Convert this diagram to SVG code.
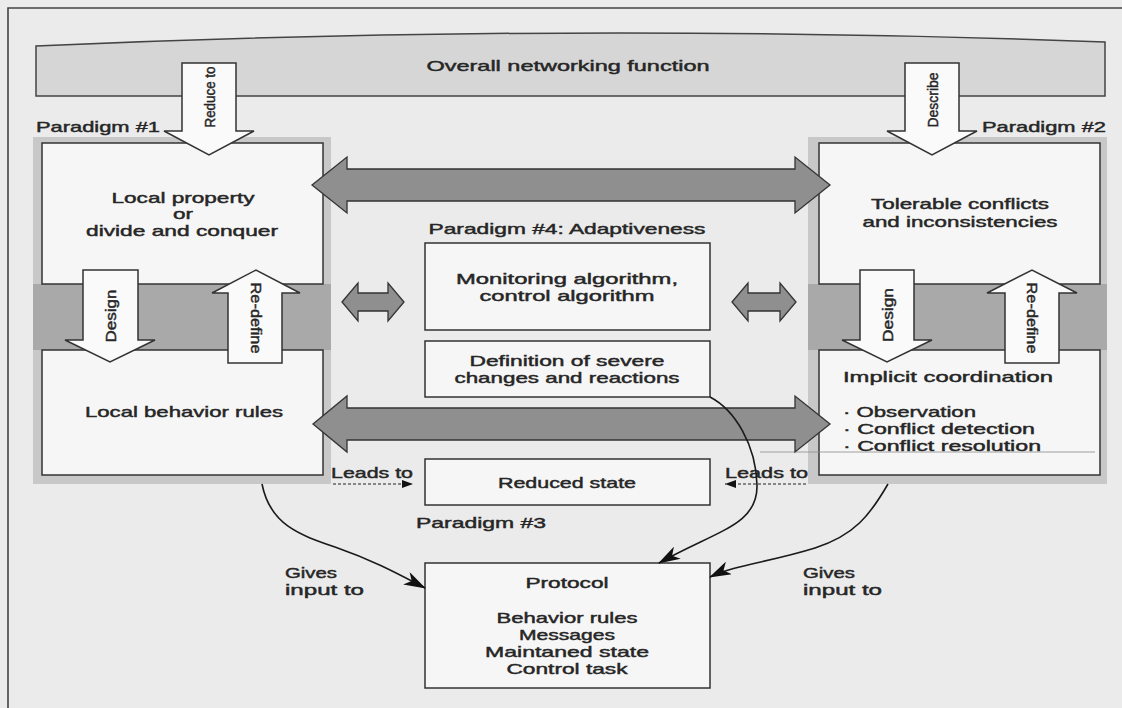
<svg xmlns="http://www.w3.org/2000/svg" width="1122" height="708" viewBox="0 0 1122 708">
<defs>
<style>
.t{font-family:"Liberation Sans",Arial,sans-serif;font-size:15px;font-weight:normal;fill:#262626;stroke:#262626;stroke-width:0.45}
.c{text-anchor:middle}
.box{fill:#f6f6f6;stroke:#333;stroke-width:1.5}
.frame{fill:#c8c8c8}
.band{fill:#a9a9a9}
.hollow{fill:#fafafa;stroke:#333;stroke-width:1.5;stroke-linejoin:miter}
.dbl{fill:#8f8f8f;stroke:#333;stroke-width:1.3}
.cv{fill:none;stroke:#1a1a1a;stroke-width:1.6}
.dash{fill:none;stroke:#222;stroke-width:1.2;stroke-dasharray:3 2}
</style>
<marker id="ah" markerWidth="22" markerHeight="14" refX="21" refY="7" orient="auto" markerUnits="userSpaceOnUse"><path d="M0,0 L22,7 L0,14 L6,7 z" fill="#111"/></marker>
<marker id="ahs" markerWidth="11" markerHeight="8" refX="11" refY="4" orient="auto" markerUnits="userSpaceOnUse"><path d="M0,0 L11,4 L0,8 z" fill="#111"/></marker>
</defs>
<rect x="0" y="0" width="1122" height="708" fill="#ebebeb"/>
<path d="M8,708 V8 H1122" fill="none" stroke="#444" stroke-width="1.6"/>

<g id="overall">
<path d="M36,46 Q570,22 1105,42 L1105,96 L36,96 Z" fill="#d6d6d6" stroke="#444" stroke-width="1.5"/>
<text class="t c" x="568" y="71" textLength="283" lengthAdjust="spacingAndGlyphs">Overall networking function</text>
</g>

<g id="paradigm1">
<text class="t" x="36" y="132" textLength="124" lengthAdjust="spacingAndGlyphs">Paradigm #1</text>
<rect class="frame" x="33" y="137" width="298" height="347"/>
<rect class="band" x="33" y="284" width="298" height="66"/>
<g id="local-property">
<rect class="box" x="42" y="143" width="281" height="141"/>
<text class="t c" x="183" y="203" textLength="143" lengthAdjust="spacingAndGlyphs">Local property</text>
<text class="t c" x="183" y="219" textLength="20" lengthAdjust="spacingAndGlyphs">or</text>
<text class="t c" x="182" y="236" textLength="192" lengthAdjust="spacingAndGlyphs">divide and conquer</text>
</g>
<g id="local-behavior">
<rect class="box" x="42" y="350" width="281" height="125"/>
<text class="t c" x="184" y="417" textLength="198" lengthAdjust="spacingAndGlyphs">Local behavior rules</text>
</g>
</g>

<g id="paradigm2">
<text class="t" x="982" y="132" textLength="124" lengthAdjust="spacingAndGlyphs">Paradigm #2</text>
<rect class="frame" x="808" y="137" width="299" height="347"/>
<rect class="band" x="808" y="284" width="299" height="66"/>
<g id="tolerable">
<rect class="box" x="819" y="143" width="281" height="141"/>
<text class="t c" x="960" y="209" textLength="178" lengthAdjust="spacingAndGlyphs">Tolerable conflicts</text>
<text class="t c" x="960" y="227" textLength="195" lengthAdjust="spacingAndGlyphs">and inconsistencies</text>
</g>
<g id="implicit">
<rect class="box" x="819" y="350" width="281" height="125"/>
<text class="t" x="843" y="382" textLength="210" lengthAdjust="spacingAndGlyphs">Implicit coordination</text>
<text class="t" x="843" y="417" textLength="133" lengthAdjust="spacingAndGlyphs">· Observation</text>
<text class="t" x="843" y="434" textLength="192" lengthAdjust="spacingAndGlyphs">· Conflict detection</text>
<text class="t" x="843" y="451" textLength="198" lengthAdjust="spacingAndGlyphs">· Conflict resolution</text>
<line x1="760" y1="452" x2="1095" y2="452" stroke="#8a8a8a" stroke-width="0.8"/>
</g>
</g>

<g id="paradigm4">
<text class="t c" x="567" y="234" textLength="277" lengthAdjust="spacingAndGlyphs">Paradigm #4: Adaptiveness</text>
<g id="monitoring">
<rect class="box" x="425" y="243" width="285" height="87"/>
<text class="t c" x="567" y="284" textLength="222" lengthAdjust="spacingAndGlyphs">Monitoring algorithm,</text>
<text class="t c" x="567" y="301" textLength="175" lengthAdjust="spacingAndGlyphs">control algorithm</text>
</g>
<g id="definition">
<rect class="box" x="425" y="341" width="285" height="56"/>
<text class="t c" x="567" y="366" textLength="195" lengthAdjust="spacingAndGlyphs">Definition of severe</text>
<text class="t c" x="567" y="383" textLength="225" lengthAdjust="spacingAndGlyphs">changes and reactions</text>
</g>
</g>

<g id="paradigm3">
<g id="reduced-state">
<rect class="box" x="425" y="459" width="285" height="46"/>
<text class="t c" x="567" y="488" textLength="138" lengthAdjust="spacingAndGlyphs">Reduced state</text>
</g>
<text class="t" x="416" y="528" textLength="130" lengthAdjust="spacingAndGlyphs">Paradigm #3</text>
</g>

<g id="protocol">
<rect class="box" x="425" y="563" width="285" height="125"/>
<text class="t c" x="567" y="588" textLength="83" lengthAdjust="spacingAndGlyphs">Protocol</text>
<text class="t c" x="567" y="623" textLength="141" lengthAdjust="spacingAndGlyphs">Behavior rules</text>
<text class="t c" x="567" y="640" textLength="96" lengthAdjust="spacingAndGlyphs">Messages</text>
<text class="t c" x="567" y="657" textLength="164" lengthAdjust="spacingAndGlyphs">Maintaned state</text>
<text class="t c" x="567" y="674" textLength="121" lengthAdjust="spacingAndGlyphs">Control task</text>
</g>

<g id="connectors">
<g id="reduce-to">
<polygon class="hollow" points="182,63 236,63 236,131 254,131 209,155 164,131 182,131"/>
<text class="t c" transform="translate(209,97) rotate(-90)" x="0" y="5.5" textLength="61" lengthAdjust="spacingAndGlyphs">Reduce to</text>
</g>
<g id="describe">
<polygon class="hollow" points="905,63 959,63 959,131 977,131 932,155 887,131 905,131"/>
<text class="t c" transform="translate(932,100) rotate(-90)" x="0" y="5.5" textLength="55" lengthAdjust="spacingAndGlyphs">Describe</text>
</g>
<g id="design-left">
<polygon class="hollow" points="83,270 138,270 138,340 155,340 110,362 65,340 83,340"/>
<text class="t c" transform="translate(110,316) rotate(-90)" x="0" y="5.5" textLength="53" lengthAdjust="spacingAndGlyphs">Design</text>
</g>
<g id="redefine-left">
<polygon class="hollow" points="228,363 282,363 282,293 300,293 256,270 212,293 228,293"/>
<text class="t c" transform="translate(256,318) rotate(90)" x="0" y="5.5" textLength="71" lengthAdjust="spacingAndGlyphs">Re-define</text>
</g>
<g id="design-right">
<polygon class="hollow" points="860,270 914,270 914,340 932,340 887,362 842,340 860,340"/>
<text class="t c" transform="translate(887,315) rotate(-90)" x="0" y="5.5" textLength="54" lengthAdjust="spacingAndGlyphs">Design</text>
</g>
<g id="redefine-right">
<polygon class="hollow" points="1005,363 1059,363 1059,293 1077,293 1032,270 987,293 1005,293"/>
<text class="t c" transform="translate(1032,318) rotate(90)" x="0" y="5.5" textLength="71" lengthAdjust="spacingAndGlyphs">Re-define</text>
</g>
<polygon class="dbl" points="312,185 347,157 347,169 795,169 795,157 830,185 795,213 795,201 347,201 347,213"/>
<polygon class="dbl" points="313,424 347,396 347,408 795,408 795,396 830,424 795,452 795,440 347,440 347,452"/>
<polygon class="dbl" points="342,302 358,283 358,293 388,293 388,283 404,302 388,321 388,311 358,311 358,321"/>
<polygon class="dbl" points="732,302 748,283 748,293 780,293 780,283 796,302 780,321 780,311 748,311 748,321"/>

<text class="t" x="331" y="478" textLength="82" lengthAdjust="spacingAndGlyphs">Leads to</text>
<path class="dash" d="M333,484 H413" marker-end="url(#ahs)"/>
<text class="t" x="725" y="478" textLength="83" lengthAdjust="spacingAndGlyphs">Leads to</text>
<path class="dash" d="M806,484 H725" marker-end="url(#ahs)"/>

<path class="cv" d="M262,484 C270,525 300,535 335,547 C375,561 400,575 425,588" marker-end="url(#ah)"/>
<path class="cv" d="M888,484 C870,515 855,535 815,548 C770,562 735,565 710,577" marker-end="url(#ah)"/>
<path class="cv" d="M710,397 C735,410 756,445 757,485 C758,525 718,530 659,563" marker-end="url(#ah)"/>
<text class="t" x="285" y="578" textLength="52" lengthAdjust="spacingAndGlyphs">Gives</text>
<text class="t" x="285" y="595" textLength="79" lengthAdjust="spacingAndGlyphs">input to</text>
<text class="t" x="803" y="578" textLength="52" lengthAdjust="spacingAndGlyphs">Gives</text>
<text class="t" x="803" y="595" textLength="79" lengthAdjust="spacingAndGlyphs">input to</text>
</g>
</svg>
